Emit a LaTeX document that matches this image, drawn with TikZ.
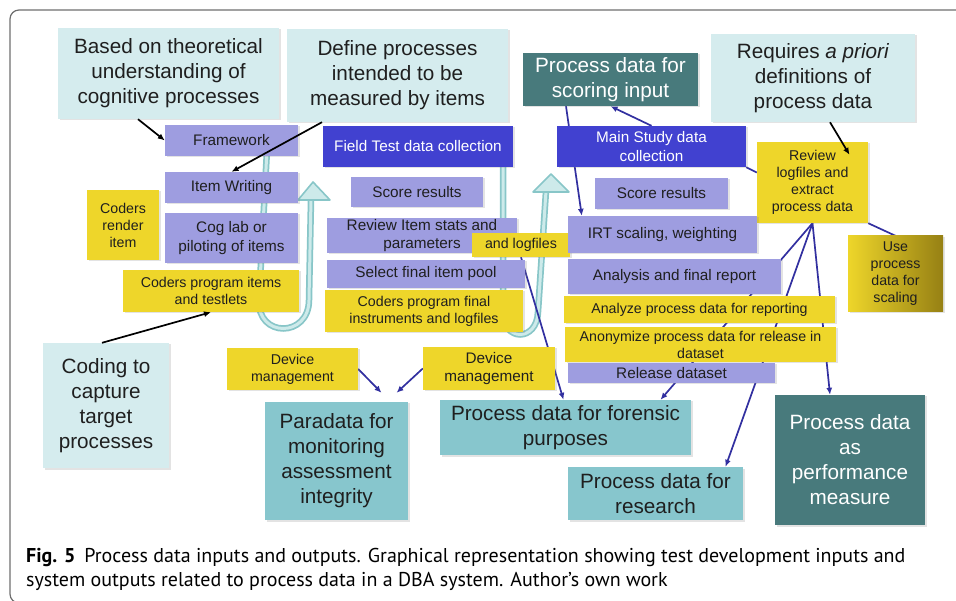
\documentclass[tikz,border=0pt]{standalone}
\usepackage{fontspec}
\setmainfont{Liberation Sans}
\newfontfamily\capfont{PT Sans}
\usetikzlibrary{arrows.meta,backgrounds,shadows}

\definecolor{paleblue}{RGB}{213,236,238}
\definecolor{lavender}{RGB}{158,157,224}
\definecolor{phaseblue}{RGB}{65,65,208}
\definecolor{codeyellow}{RGB}{238,214,42}
\definecolor{olivey}{RGB}{150,128,20}
\definecolor{outteal}{RGB}{135,198,205}
\definecolor{darkteal}{RGB}{72,122,124}
\definecolor{flowblue}{RGB}{50,48,160}
\definecolor{bandedge}{RGB}{136,198,200}
\definecolor{bandfill}{RGB}{205,234,234}
\definecolor{framegray}{RGB}{110,110,110}

\tikzset{
  box/.style={inner sep=0pt, align=center, text=black!88,
    drop shadow={shadow xshift=1.5pt, shadow yshift=-1.5pt, opacity=0.22}},
  bigbox/.style={box, font=\fontsize{20.7}{25}\selectfont},
  midbox/.style={box, font=\fontsize{15.3}{18.5}\selectfont},
  smallbox/.style={box, font=\fontsize{14.2}{17}\selectfont},
  note/.style={bigbox, fill=paleblue},
  task/.style={midbox, fill=lavender},
  phase/.style={midbox, fill=phaseblue, text=white},
  coder/.style={smallbox, fill=codeyellow},
  output/.style={bigbox, fill=outteal},
  darkout/.style={bigbox, fill=darkteal, text=white},
  flow/.style={draw=flowblue, line width=1.7pt, -{Latex[length=7pt,width=6pt]}},
  link/.style={draw=flowblue, line width=1.7pt},
  pointer/.style={draw=black, line width=1.7pt, -{Latex[length=7pt,width=6pt]}},
  bandout/.style={draw=bandedge, line width=6.5pt},
  bandin/.style={draw=bandfill, line width=3pt},
  bandhead/.style={fill=bandfill, draw=bandedge, line width=1.6pt, line join=round},
  captext/.style={anchor=base west, inner sep=0pt, font=\capfont\fontsize{20}{24}\selectfont}
}

\begin{document}
\begin{tikzpicture}[x=1pt, y=-1pt]
\useasboundingbox (0,0) rectangle (956,601);
\begin{scope}
\clip (0,0) rectangle (956,601);
\draw[framegray, line width=1.2pt, rounded corners=9pt] (10,10) rectangle (990,603);
\end{scope}

% inputs
\node[note, minimum width=221pt, minimum height=91pt] (based) at (168.5,73.5) {Based on theoretical\\understanding of\\cognitive processes};
\node[note, minimum width=221pt, minimum height=93pt] (define) at (397.5,75.5) {Define processes\\intended to be\\measured by items};
\node[note, minimum width=204pt, minimum height=88pt] (requires) at (813,78) {Requires \textit{a priori}\\definitions of\\process data};
\node[note, minimum width=126pt, minimum height=125pt] (coding) at (106,405.5) {Coding to\\capture\\target\\processes};

% field test
\node[task, minimum width=133pt, minimum height=31pt] (frame) at (231.5,140.5) {Framework};
\node[task, minimum width=133pt, minimum height=31pt] (itemw) at (231.5,187.5) {Item Writing};
\node[task, minimum width=133pt, minimum height=50pt] (coglab) at (231.5,238) {Cog lab or\\piloting of items};
\node[coder, minimum width=72pt, minimum height=70pt] (render) at (123,225) {Coders\\render\\item};
\node[coder, minimum width=176pt, minimum height=42pt] (progitems) at (211,291) {Coders program items\\and testlets};
\node[phase, minimum width=190pt, minimum height=41pt] (field) at (418,146.5) {Field Test data collection};
\node[task, minimum width=132pt, minimum height=30pt] (scorea) at (417,192) {Score results};
\node[task, minimum width=190pt, minimum height=35pt] (revitem) at (422,235.5) {Review Item stats and\\parameters};
\node[task, minimum width=198pt, minimum height=28pt] (select) at (426,274) {Select final item pool};
\node[coder, minimum width=198pt, minimum height=42pt] (progfinal) at (424,311) {Coders program final\\instruments and logfiles};
\node[coder, minimum width=98pt, minimum height=24pt] (andlog) at (521,245) {and logfiles};
\node[coder, minimum width=131pt, minimum height=42pt] (deva) at (292.5,369) {Device\\management};
\node[coder, font=\fontsize{15.3}{18}\selectfont, minimum width=132pt, minimum height=43pt] (devb) at (489,368.5) {Device\\management};

% main study
\node[darkout, minimum width=175pt, minimum height=53pt] (scoring) at (610.5,79.5) {Process data for\\scoring input};
\node[phase, minimum width=189pt, minimum height=41pt] (main) at (651.5,146.5) {Main Study data\\collection};
\node[coder, minimum width=111pt, minimum height=81pt] (revlog) at (812.5,182.5) {Review\\logfiles and\\extract\\process data};
\node[task, minimum width=133pt, minimum height=31pt] (scoreb) at (661.5,193.5) {Score results};
\node[task, minimum width=189pt, minimum height=37pt] (irt) at (662.5,234.5) {IRT scaling, weighting};
\node[task, minimum width=213pt, minimum height=35pt] (analysis) at (674.5,276.5) {Analysis and final report};
\node[coder, left color=codeyellow, middle color=codeyellow, right color=olivey, minimum width=95pt, minimum height=76pt] (use) at (895.5,274) {Use\\process\\data for\\scaling};
\node[coder, minimum width=271pt, minimum height=27pt] (analyze) at (699.5,309.5) {Analyze process data for reporting};
\node[coder, minimum width=271pt, minimum height=35pt] (anonym) at (700.5,344.5) {Anonymize process data for release in\\dataset};
\node[task, minimum width=207pt, minimum height=20pt] (release) at (671.5,373) {Release dataset};

% outputs
\node[output, minimum width=143pt, minimum height=118pt] (paradata) at (336.5,461) {Paradata for\\monitoring\\assessment\\integrity};
\node[output, minimum width=251pt, minimum height=55pt] (forensic) at (565.5,427.5) {Process data for forensic\\purposes};
\node[output, minimum width=175pt, minimum height=53pt] (research) at (655.5,493.5) {Process data for\\research};
\node[darkout, minimum width=150pt, minimum height=130pt] (perf) at (850,460) {Process data\\as\\performance\\measure};

\begin{pgfonlayer}{background}
\draw[bandout] (267,150) -- (259,300) .. controls (257,338) and (309,338) .. (309,300) -- (311,199);
\draw[bandin] (267,150) -- (259,300) .. controls (257,338) and (309,338) .. (309,300) -- (311,199);
\draw[bandhead] (298,200) -- (313,182) -- (330,200) -- cycle;
\draw[bandout] (503,160) -- (503,312) .. controls (503,342) and (537,342) .. (538,312) -- (546,191);
\draw[bandin] (503,160) -- (503,312) .. controls (503,342) and (537,342) .. (538,312) -- (546,191);
\draw[bandhead] (533,192) -- (551,174) -- (569,192) -- cycle;

\draw[flow] (main.north) -- (scoring.south);
\draw[flow] ([xshift=-44.5pt]scoring.south) -- ([xshift=14pt]irt.north west);
\draw[link] (main.south east) -- ([yshift=10pt]revlog.west);
\draw[link] (revlog.south east) -- (use.north);
\draw[flow] (revlog.south) -- ([xshift=95pt]forensic.north);
\draw[flow] (revlog.south) -- ([xshift=70pt]research.north);
\draw[flow] (revlog.south) -- ([xshift=-20pt]perf.north);
\draw[flow] (andlog.south) -- ([xshift=-2pt]forensic.north);
\draw[flow] (deva.east) -- ([xshift=45pt,yshift=9pt]paradata.north);
\draw[flow] (devb.west) -- ([xshift=60pt,yshift=9pt]paradata.north);
\end{pgfonlayer}

\draw[pointer] ([xshift=-30.5pt]based.south) -- (frame.west);
\draw[pointer] ([xshift=-75.5pt]define.south) -- (itemw.north);
\draw[pointer] ([xshift=17pt]requires.south) -- ([xshift=37pt,yshift=-13pt]revlog.north);
\draw[pointer] ([xshift=-4pt]coding.north) -- (progitems.south);

\node[captext] (capa) at (26,562) {\textbf{Fig. 5}\hspace{9pt}Process data inputs and outputs. Graphical representation showing test development inputs and};
\node[captext] (capb) at (26,586) {system outputs related to process data in a DBA system. Author’s own work};
\end{tikzpicture}
\end{document}
